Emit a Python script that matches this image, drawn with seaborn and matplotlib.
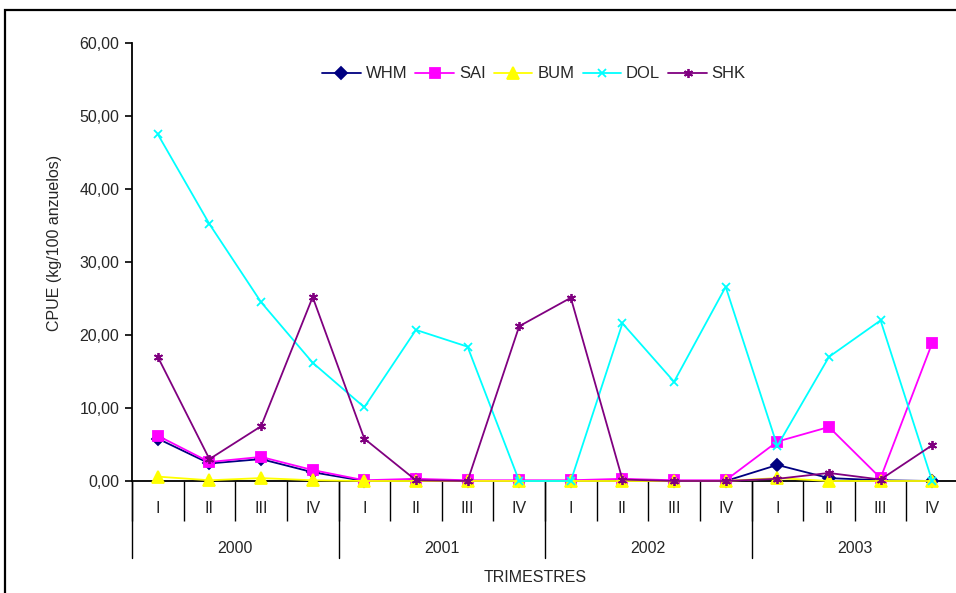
import matplotlib
matplotlib.use('Agg')
import matplotlib.pyplot as plt
import seaborn as sns
import numpy as np
from matplotlib.patches import Rectangle
import matplotlib.transforms as mtransforms
from matplotlib.ticker import FuncFormatter

years = ['2000', '2001', '2002', '2003']
quarters = ['I', 'II', 'III', 'IV']
series = ['WHM', 'SAI', 'BUM', 'DOL', 'SHK']
whm = [5.8, 2.4, 3.0, 1.2, 0.0, 0.2, 0.0, 0.0, 0.0, 0.1, 0.0, 0.0, 2.2, 0.4, 0.1, 0.0]
sai = [6.2, 2.6, 3.3, 1.5, 0.1, 0.3, 0.1, 0.1, 0.1, 0.3, 0.1, 0.1, 5.4, 7.4, 0.4, 18.9]
bum = [0.6, 0.1, 0.4, 0.1, 0.0, 0.0, 0.0, 0.0, 0.0, 0.0, 0.0, 0.0, 0.4, 0.0, 0.0, 0.0]
dol = [47.5, 35.2, 24.5, 16.2, 10.1, 20.7, 18.4, 0.0, 0.0, 21.6, 13.6, 26.6, 4.8, 17.0, 22.0, 0.0]
shk = [17.0, 3.0, 7.5, 25.2, 5.8, 0.1, 0.0, 21.2, 25.1, 0.2, 0.0, 0.0, 0.3, 1.1, 0.2, 4.9]

values = [whm, sai, bum, dol, shk]
colors = ['#000080', '#FF00FF', '#FFFF00', '#00FFFF', '#800080']
markers = ['D', 's', '^', 'x', (6, 2, 0)]
msizes = [6, 7, 8, 6, 6.5]

sns.set_style('white')
plt.rcParams['font.family'] = ['Liberation Sans', 'DejaVu Sans']

W, H = 956, 593
fig = plt.figure(figsize=(W / 100, H / 100), dpi=100)
ax = fig.add_axes([132 / W, 1 - 481 / H, (958 - 132) / W, (481 - 43) / H])

pos = np.arange(len(years) * len(quarters))
for name, vals, c, m, ms in zip(series, values, colors, markers, msizes):
    sns.lineplot(x=pos, y=vals, color=c, marker=m, markersize=ms,
                 markeredgecolor=c, markerfacecolor=c, markeredgewidth=1.3,
                 linewidth=1.3, label=name, ax=ax, clip_on=False, zorder=3)

ax.set_xlim(-0.5, 15.5)
ax.set_ylim(0, 60)
ax.set_yticks(np.arange(0, 61, 10))
ax.yaxis.set_major_formatter(FuncFormatter(lambda v, p: f'{v:.2f}'.replace('.', ',')))
ax.tick_params(axis='y', direction='out', length=5, width=1.2, color='black',
               labelsize=11.5, pad=4, left=True)
for s in ['top', 'right']:
    ax.spines[s].set_visible(False)
for s in ['left', 'bottom']:
    ax.spines[s].set_color('black')
    ax.spines[s].set_linewidth(1.3)

# category axis
ax.set_xticks(np.arange(-0.5, 15.6, 1.0))
ax.set_xticklabels([])
ax.tick_params(axis='x', direction='out', length=29, width=1.0, color='black', bottom=True)
ax.set_xlabel('')
ax.set_ylabel('')

trans = mtransforms.blended_transform_factory(ax.transData, ax.transAxes)
for i, p in enumerate(pos):
    ax.text(p, -0.062, quarters[i % 4], transform=trans, ha='center', va='center',
            fontsize=11.5, family=['Liberation Sans Narrow', 'Liberation Sans'])
for j, y in enumerate(years):
    ax.text(j * 4 + 1.5, -0.153, y, transform=trans, ha='center', va='center',
            fontsize=11.5, family=['Liberation Sans Narrow', 'Liberation Sans'])
for b in [-0.5, 3.5, 7.5, 11.5, 15.5]:
    ax.plot([b, b], [0, -0.176], transform=trans, color='black', lw=1.0, clip_on=False)

fig.text(535 / W, 1 - 578 / H, 'TRIMESTRES', ha='center', va='center', fontsize=11.5,
         family=['Liberation Sans Narrow', 'Liberation Sans'])
fig.text(55 / W, 1 - 243 / H, 'CPUE (kg/100 anzuelos)', rotation=90, ha='center',
         va='center', fontsize=11.5)

leg = ax.legend(loc='center', bbox_to_anchor=(534 / W, 1 - 74 / H), bbox_transform=fig.transFigure,
                ncol=5, frameon=False, fontsize=12, handlelength=2.3, columnspacing=0.5,
                handletextpad=0.3, borderpad=0.2)

fig.add_artist(Rectangle((5 / W, -0.1), 1.2, 1 - 10 / H + 0.1, transform=fig.transFigure,
                         fill=False, edgecolor='black', lw=1.6))

fig.savefig('out.png', dpi=100)
